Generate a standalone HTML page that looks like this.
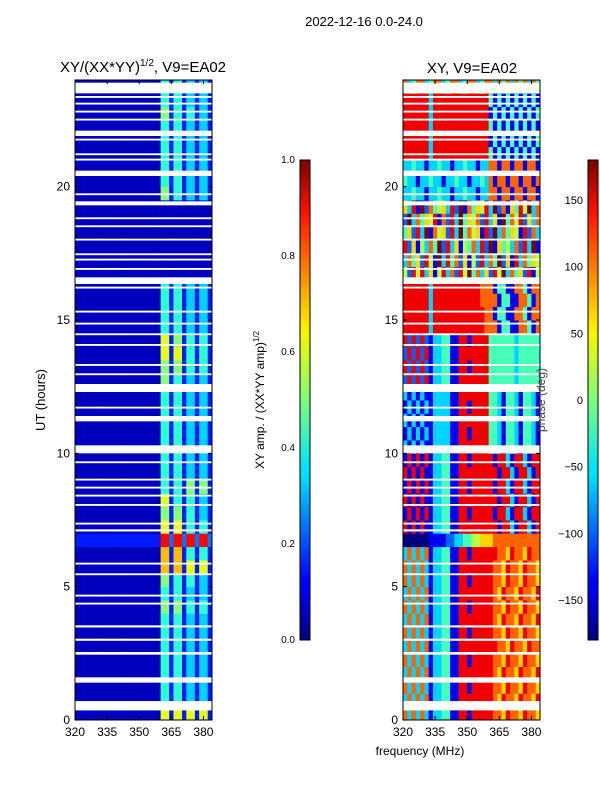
<!DOCTYPE html>
<html><head><meta charset="utf-8"><style>
body{margin:0;background:#fff;}
svg{font-family:"Liberation Sans",sans-serif;}
</style></head><body>
<svg id="fig" width="600" height="800" viewBox="0 0 600 800" xmlns="http://www.w3.org/2000/svg">
<defs>
<linearGradient id="jet" x1="0" y1="1" x2="0" y2="0">
<stop offset="0" stop-color="#00007f"/><stop offset="0.11" stop-color="#0000ff"/><stop offset="0.125" stop-color="#0000ff"/><stop offset="0.34" stop-color="#00dcff"/><stop offset="0.36" stop-color="#00e5f8"/><stop offset="0.5" stop-color="#7dff7a"/><stop offset="0.64" stop-color="#f8f500"/><stop offset="0.66" stop-color="#ffe600"/><stop offset="0.89" stop-color="#ff1300"/><stop offset="1" stop-color="#7f0000"/>
</linearGradient>
</defs>
<text x="364" y="26" font-size="13" text-anchor="middle">2022-12-16 0.0-24.0</text>
<text x="143" y="72" font-size="15" text-anchor="middle">XY/(XX*YY)<tspan font-size="10" dy="-6">1/2</tspan><tspan dy="6">, V9=EA02</tspan></text>
<text x="472" y="73" font-size="15" text-anchor="middle">XY, V9=EA02</text>
<g id="left"></g>
<g id="right"></g>
<g id="axes"></g>
<text transform="translate(45,400) rotate(-90)" font-size="13" text-anchor="middle">UT (hours)</text>
<text x="420" y="755" font-size="12" text-anchor="middle">frequency (MHz)</text>
<rect x="300" y="160" width="10" height="480" fill="url(#jet)" stroke="#000" stroke-width="1"/>
<rect x="588" y="160" width="10" height="480" fill="url(#jet)" stroke="#000" stroke-width="1"/>
<text transform="translate(264,400) rotate(-90)" font-size="12" text-anchor="middle">XY amp. / (XX*YY amp)<tspan font-size="8" dy="-5">1/2</tspan></text>
<text transform="translate(545,400) rotate(-90)" font-size="12" text-anchor="middle" fill="#444">phase (deg)</text>
</svg>
<script>
// ---- data ----
const timeRange = [0, 24];
const freqRange = [320, 384];
const freqStep = 2;
const timeStep = 0.5;
const xTicks = [320, 335, 350, 365, 380];
const yTicks = [0, 5, 10, 15, 20];
const ampTicks = [0.0, 0.2, 0.4, 0.6, 0.8, 1.0];
const phaseTicks = [-150, -100, -50, 0, 50, 100, 150];
// amplitude rows (0-0.5h first), digits 0-9 => 0.06+0.09*d
const ampRows = [
"00000000000000000000661661661661",
"00000000000000000000441441331331",
"00000000000000000000441441331331",
"00000000000000000000441441331331",
"00000000000000000000441441331331",
"00000000000000000000441441331331",
"00000000000000000000441441331331",
"00000000000000000000441441331331",
"00000000000000000000551551441441",
"00000000000000000000441441331331",
"00000000000000000000551441441331",
"00000000000000000000771771661661",
"00000000000000000000771771441441",
"11111111111111111111992992992992",
"00000000000000000000661661441441",
"00000000000000000000551551441331",
"00000000000000000000661441441331",
"00000000000000000000441441551551",
"00000000000000000000441441331331",
"00000000000000000000441441331331",
"00000000000000000000441441331331",
"00000000000000000000441441331331",
"00000000000000000000441441331331",
"00000000000000000000441441331331",
"00000000000000000000441441331331",
"00000000000000000000551441331331",
"00000000000000000000551551441441",
"00000000000000000000661661441441",
"00000000000000000000661551441441",
"00000000000000000000441441331331",
"00000000000000000000441441331331",
"00000000000000000000441441331331",
"00000000000000000000441441331331",
"00000000000000000000000000000000",
"00000000000000000000000000000000",
"00000000000000000000000000000000",
"00000000000000000000000000000000",
"00000000000000000000000000000000",
"00000000000000000000000000000000",
"00000000000000000000551441331331",
"00000000000000000000441441331331",
"00000000000000000000441441331331",
"00000000000000000000441441331331",
"00000000000000000000441441331331",
"00000000000000000000441441331331",
"00000000000000000000551441441331",
"00000000000000000000441441331331",
"00000000000000000000441441331331"
];
// phase rows, digits 0-9 => fraction d/9 of [-180,180]
const phaseRows = [
"73737313344118818888877687768776",
"37373713344118888888876877687768",
"73737313344118818888877687768776",
"37373713344118888888876877687768",
"73737313344118818888877687768776",
"37373713344118888888887768776877",
"73737313344118818888877687768776",
"37373713344118888888876877687768",
"73737313344118818888877687768776",
"37373713344118888888876877687768",
"73737313344118818888877687768776",
"73737313344118888888877687768776",
"37373713344118818888887768776877",
"00000011112233445566677777777777",
"81818113344118888888881883188318",
"18181813344118818888818831883188",
"81818113344118888888881883188318",
"18181813344118818888818831883188",
"81818113344118888888881883188318",
"18181813344118818888818831883188",
"31313113333118888888443144314431",
"13131313333118818888443144314431",
"31313113333118888888443144314431",
"13131313333118818888443144314431",
"31313113333118888888443144314431",
"28282813344118888888444444344444",
"82828213344118818888444444344444",
"28282813344118888888444444344444",
"82828213344118818888444444344444",
"88888838888888888887771441177417",
"88888838888888888887714411774177",
"88888838888888888877771441177417",
"88888838888888888877714411774177",
"52858361583728594736285937462815",
"37462851938472615283749261837465",
"82615374928361547382916453728391",
"46283917562839475618293746518273",
"29374658172839465728361947582637",
"63819274563829174658392716485937",
"33433133433133433133771771771771",
"43313343313343313343717717717717",
"33433133433133433133771771771771",
"88888838888888888888414141414141",
"88888838888888888888141414141414",
"88888838888888888888414141414141",
"88888838888888888888141414141414",
"88888838888888888888414141414141",
"73477347734773477347737473747374"
];
// flagged (white) time ranges in hours
const flagStart = [0.36,1.4,2.45,2.97,3.47,4.33,4.63,5.43,5.83,7.07,7.33,8.03,8.38,8.68,8.98,9.63,10.0,11.2,11.68,12.3,12.93,13.28,14.03,14.43,14.83,15.28,16.18,16.35,16.88,17.23,17.43,17.98,18.48,18.78,19.3,19.68,20.4,20.98,21.18,21.73,21.9,22.48,22.78,23.08,23.33,23.5];
const flagEnd   = [0.71,1.6,2.55,3.05,3.55,4.4,4.7,5.5,5.9,7.15,7.4,8.1,8.45,8.75,9.05,9.7,10.3,11.4,11.75,12.6,13.0,13.35,14.1,14.5,14.9,15.35,16.25,16.6,16.95,17.3,17.5,18.05,18.55,18.85,19.45,19.75,20.6,21.05,21.25,21.8,22.1,22.55,22.85,23.15,23.4,23.9];

// ---- helpers ----
const NS = "http://www.w3.org/2000/svg";
const panels = {left: {x0: 75, x1: 212}, right: {x0: 403, x1: 540}};
const Y0 = 720, Y1 = 80;
function yScale(t){ return Y0 - (t - timeRange[0]) / (timeRange[1] - timeRange[0]) * (Y0 - Y1); }
function xScale(p, f){ return p.x0 + (f - freqRange[0]) / (freqRange[1] - freqRange[0]) * (p.x1 - p.x0); }
function jet(v){
  v = Math.max(0, Math.min(1, v));
  const r = Math.max(0, Math.min(1, 1.5 - Math.abs(4*v - 3)));
  const g = Math.max(0, Math.min(1, 1.5 - Math.abs(4*v - 2)));
  const b = Math.max(0, Math.min(1, 1.5 - Math.abs(4*v - 1)));
  return "rgb(" + Math.round(r*255) + "," + Math.round(g*255) + "," + Math.round(b*255) + ")";
}
function mk(tag, attrs, parent){
  const e = document.createElementNS(NS, tag);
  for (const k in attrs) e.setAttribute(k, attrs[k]);
  parent.appendChild(e);
  return e;
}
function drawHeat(gid, p, rows, toFrac, name){
  const g = document.getElementById(gid);
  rows.forEach((row, ri) => {
    const t0 = timeRange[0] + ri * timeStep;
    for (let ci = 0; ci < row.length; ci++){
      const f0 = freqRange[0] + ci * freqStep;
      const xa = xScale(p, f0), xb = xScale(p, f0 + freqStep);
      const ya = yScale(t0 + timeStep), yb = yScale(t0);
      const r = mk("rect", {x: xa, y: ya, width: xb - xa + 0.4, height: yb - ya + 0.4, fill: jet(toFrac(+row[ci]))}, g);
      
      
    }
  });
  for (let i = 0; i < flagStart.length; i++){
    const ya = yScale(flagEnd[i]), yb = yScale(flagStart[i]);
    const r = mk("rect", {x: p.x0, y: ya, width: p.x1 - p.x0, height: Math.max(1.5, yb - ya), fill: "#fff"}, g);
    
    
  }
}
drawHeat("left", panels.left, ampRows, d => 0.06 + 0.09*d, 'amplitude-cell');
drawHeat("right", panels.right, phaseRows, d => d/9, 'phase-cell');

const ax = document.getElementById("axes");
for (const key of ["left", "right"]){
  const p = panels[key];
  const fr = mk("rect", {x: p.x0, y: Y1, width: p.x1 - p.x0, height: Y0 - Y1, fill: "none", stroke: "#000", "stroke-width": 1}, ax);
  
  
  xTicks.forEach(f => {
    const x = xScale(p, f);
    mk("line", {x1: x, x2: x, y1: Y0, y2: Y0 - 4, stroke: "#000"}, ax);
    mk("line", {x1: x, x2: x, y1: Y1, y2: Y1 + 4, stroke: "#000"}, ax);
    const t = mk("text", {x: x, y: Y0 + 16, "font-size": 12, "text-anchor": "middle"}, ax);
    t.textContent = f;
    
    
  });
  yTicks.forEach(h => {
    const y = yScale(h);
    mk("line", {x1: p.x0, x2: p.x0 + 4, y1: y, y2: y, stroke: "#000"}, ax);
    mk("line", {x1: p.x1, x2: p.x1 - 4, y1: y, y2: y, stroke: "#000"}, ax);
    const t = mk("text", {x: p.x0 - 5, y: y + 4, "font-size": 12, "text-anchor": "end"}, ax);
    t.textContent = h;
    
    
  });
}
ampTicks.forEach(v => {
  const y = 640 - v * 480;
  mk("line", {x1: 300, x2: 303, y1: y, y2: y, stroke: "#000"}, ax);
  mk("line", {x1: 310, x2: 307, y1: y, y2: y, stroke: "#000"}, ax);
  const t = mk("text", {x: 295, y: y + 3, "font-size": 10, "text-anchor": "end"}, ax);
  t.textContent = v.toFixed(1);
  
  
});
phaseTicks.forEach(v => {
  const y = 400 - v * 240 / 180;
  mk("line", {x1: 588, x2: 591, y1: y, y2: y, stroke: "#000"}, ax);
  mk("line", {x1: 598, x2: 595, y1: y, y2: y, stroke: "#000"}, ax);
  const t = mk("text", {x: 583, y: y + 4, "font-size": 11, "text-anchor": "end"}, ax);
  t.textContent = v < 0 ? "\u2212" + (-v) : v;
  
  
});
</script>
</body></html>
